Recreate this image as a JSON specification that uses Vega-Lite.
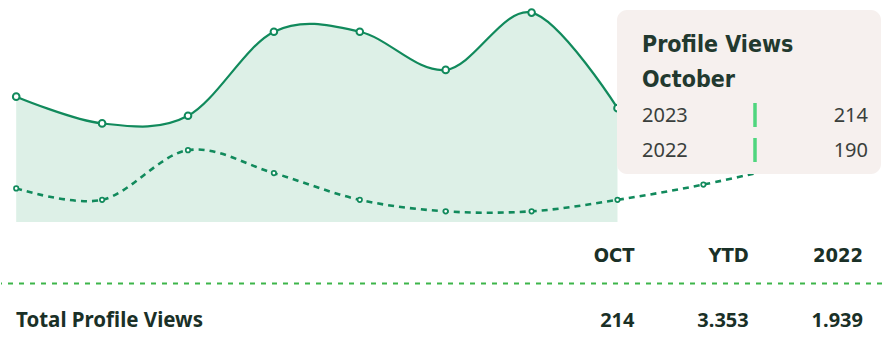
{
  "$schema": "https://vega.github.io/schema/vega-lite/v6.json",
  "padding": 0,
  "spacing": 0,
  "background": "white",
  "config": {"view": {"stroke": null}},
  "datasets": {
    "views": [
      {"month": 3, "label": "Mar", "year": "2023", "views": 217},
      {"month": 4, "label": "Apr", "year": "2023", "views": 210},
      {"month": 5, "label": "May", "year": "2023", "views": 212},
      {"month": 6, "label": "Jun", "year": "2023", "views": 234},
      {"month": 7, "label": "Jul", "year": "2023", "views": 234},
      {"month": 8, "label": "Aug", "year": "2023", "views": 224},
      {"month": 9, "label": "Sep", "year": "2023", "views": 239},
      {"month": 10, "label": "Oct", "year": "2023", "views": 214},
      {"month": 3, "label": "Mar", "year": "2022", "views": 193},
      {"month": 4, "label": "Apr", "year": "2022", "views": 190},
      {"month": 5, "label": "May", "year": "2022", "views": 203},
      {"month": 6, "label": "Jun", "year": "2022", "views": 197},
      {"month": 7, "label": "Jul", "year": "2022", "views": 190},
      {"month": 8, "label": "Aug", "year": "2022", "views": 187},
      {"month": 9, "label": "Sep", "year": "2022", "views": 187},
      {"month": 10, "label": "Oct", "year": "2022", "views": 190},
      {"month": 11, "label": "Nov", "year": "2022", "views": 194},
      {"month": 12, "label": "Dec", "year": "2022", "views": 199}
    ],
    "tooltip": [
      {"key": "Profile Views", "kind": "title"},
      {"key": "October", "kind": "title"},
      {"key": "2023", "kind": "row", "views": 214},
      {"key": "2022", "kind": "row", "views": 190}
    ],
    "table": [
      {"row": "header", "col": "OCT", "text": "OCT"},
      {"row": "header", "col": "YTD", "text": "YTD"},
      {"row": "header", "col": "2022", "text": "2022"},
      {"row": "total", "col": "label", "text": "Total Profile Views"},
      {"row": "total", "col": "OCT", "text": "214"},
      {"row": "total", "col": "YTD", "text": "3.353"},
      {"row": "total", "col": "2022", "text": "1.939"}
    ]
  },
  "vconcat": [
    {
      "width": 882,
      "height": 222,
      "layer": [
        {
          "data": {"name": "views"},
          "encoding": {
            "x": {"field": "month", "type": "quantitative", "scale": {"domain": [2.823, 13.091], "nice": false, "zero": false}, "axis": null},
            "y": {"field": "views", "type": "quantitative", "scale": {"domain": [184.2, 242.3], "nice": false, "zero": false}, "axis": null}
          },
          "layer": [
            {"transform": [{"filter": "datum.year === '2023'"}], "mark": {"type": "area", "interpolate": "cardinal", "color": "#ddf0e7", "clip": true}},
            {"transform": [{"filter": "datum.year === '2022'"}], "mark": {"type": "line", "interpolate": "cardinal", "color": "#118a5c", "strokeWidth": 2.6, "strokeDash": [6, 5]}},
            {"transform": [{"filter": "datum.year === '2023'"}], "mark": {"type": "line", "interpolate": "cardinal", "color": "#118a5c", "strokeWidth": 2.2}},
            {"transform": [{"filter": "datum.year === '2022'"}], "mark": {"type": "point", "filled": true, "fill": "white", "stroke": "#118a5c", "strokeWidth": 1.7, "size": 20, "opacity": 1}},
            {"transform": [{"filter": "datum.year === '2023'"}], "mark": {"type": "point", "filled": true, "fill": "white", "stroke": "#118a5c", "strokeWidth": 2, "size": 44, "opacity": 1}}
          ]
        },
        {
          "data": {"name": "tooltip"},
          "layer": [
            {
              "transform": [{"filter": "datum.key === 'Profile Views'"}],
              "mark": {"type": "rect", "fill": "#f6f0ee", "cornerRadius": 10, "xOffset": -25, "x2Offset": 13, "yOffset": -42, "y2Offset": 17},
              "encoding": {
                "x": {"datum": "year", "type": "nominal", "scale": {"type": "point", "domain": ["year", "marker", "views"], "range": [641, 867], "padding": 0}, "axis": null},
                "x2": {"datum": "views"},
                "y": {"datum": "Profile Views", "type": "nominal", "scale": {"type": "point", "domain": ["Profile Views", "October", "2023", "2022"], "range": [52, 157], "padding": 0}, "axis": null},
                "y2": {"datum": "2022"}
              }
            },
            {
              "transform": [{"filter": "datum.kind === 'title'"}],
              "mark": {"type": "text", "align": "left", "baseline": "alphabetic", "font": "DejaVu Sans Condensed", "fontWeight": "bold", "fontSize": 23, "color": "#22392f"},
              "encoding": {
                "x": {"datum": "year", "type": "nominal"},
                "y": {"field": "key", "type": "nominal"},
                "text": {"field": "key"}
              }
            },
            {
              "transform": [{"filter": "datum.kind === 'row'"}],
              "mark": {"type": "text", "align": "left", "baseline": "alphabetic", "font": "Noto Sans", "fontSize": 20, "color": "#3a3f3c"},
              "encoding": {
                "x": {"datum": "year", "type": "nominal"},
                "y": {"field": "key", "type": "nominal"},
                "text": {"field": "key"}
              }
            },
            {
              "transform": [{"filter": "datum.kind === 'row'"}],
              "mark": {"type": "rule", "color": "#4fd67e", "strokeWidth": 3.5, "yOffset": -19, "y2Offset": 5},
              "encoding": {
                "x": {"datum": "marker", "type": "nominal"},
                "y": {"field": "key", "type": "nominal"},
                "y2": {"field": "key"}
              }
            },
            {
              "transform": [{"filter": "datum.kind === 'row'"}],
              "mark": {"type": "text", "align": "right", "baseline": "alphabetic", "font": "Noto Sans", "fontSize": 20, "color": "#3a3f3c"},
              "encoding": {
                "x": {"datum": "views", "type": "nominal"},
                "y": {"field": "key", "type": "nominal"},
                "text": {"field": "views", "type": "quantitative"}
              }
            }
          ]
        }
      ],
      "resolve": {"scale": {"x": "independent", "y": "independent"}}
    },
    {
      "width": 882,
      "height": 130,
      "data": {"name": "table"},
      "layer": [
        {
          "layer": [
            {
              "data": {"values": [{"row": "header"}]},
              "mark": {"type": "rule", "color": "#3db54a", "strokeWidth": 2, "strokeDash": [5, 6], "strokeDashOffset": -12, "yOffset": 21.5},
              "encoding": {
                "y": {"field": "row", "type": "nominal", "scale": {"type": "point", "domain": ["header", "total"], "range": [40, 105], "padding": 0}, "axis": null}
              }
            },
            {
              "transform": [{"filter": "datum.row === 'header'"}],
              "mark": {"type": "text", "align": "right", "baseline": "alphabetic", "font": "DejaVu Sans Condensed", "fontWeight": "bold", "fontSize": 20, "color": "#1a3027"},
              "encoding": {
                "x": {"field": "col", "type": "nominal", "scale": {"type": "point", "domain": ["OCT", "YTD", "2022"], "range": [633.5, 862], "padding": 0}, "axis": null},
                "y": {"field": "row", "type": "nominal"},
                "text": {"field": "text"}
              }
            },
            {
              "transform": [{"filter": "datum.row === 'total' && datum.col !== 'label'"}],
              "mark": {"type": "text", "align": "right", "baseline": "alphabetic", "font": "Noto Sans", "fontWeight": "bold", "fontSize": 20, "color": "#1a3027"},
              "encoding": {
                "x": {"field": "col", "type": "nominal"},
                "y": {"field": "row", "type": "nominal"},
                "text": {"field": "text"}
              }
            }
          ]
        },
        {
          "transform": [{"filter": "datum.col === 'label'"}],
          "mark": {"type": "text", "align": "left", "baseline": "alphabetic", "font": "Noto Sans", "fontWeight": "bold", "fontSize": 20.5, "color": "#1a3027"},
          "encoding": {
            "x": {"field": "col", "type": "nominal", "scale": {"type": "point", "domain": ["label"], "range": [15, 15], "padding": 0}, "axis": null},
            "y": {"field": "row", "type": "nominal"},
            "text": {"field": "text"}
          }
        }
      ],
      "resolve": {"scale": {"x": "independent"}}
    }
  ]
}
